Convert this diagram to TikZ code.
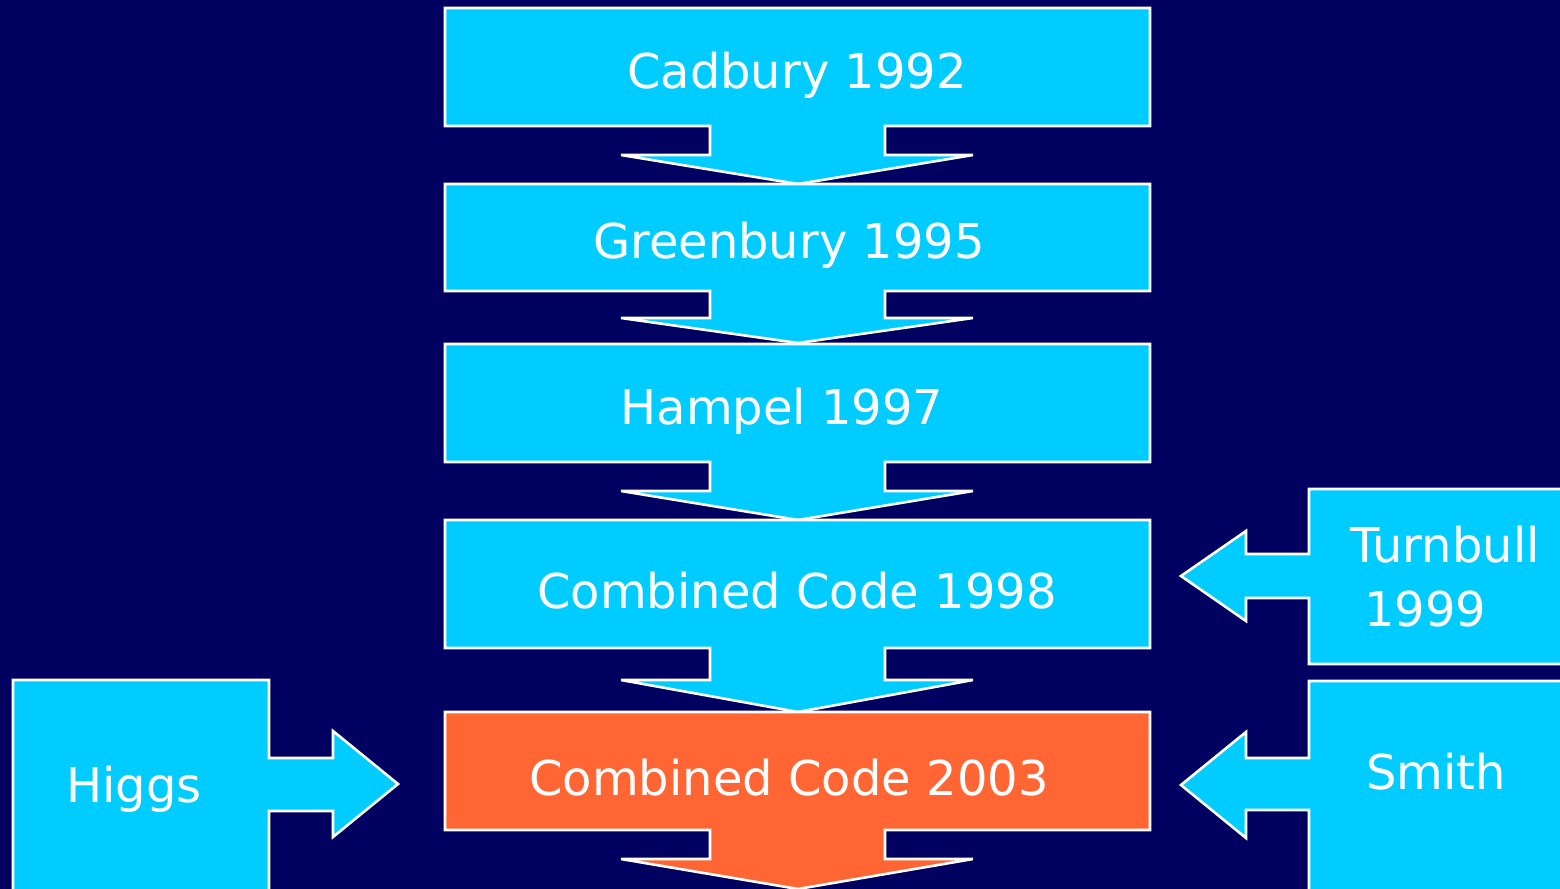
\documentclass[tikz,border=0pt]{standalone}
\usepackage{fontspec}
\setmainfont{DejaVu Sans}
\definecolor{navy}{HTML}{000060}
\definecolor{sky}{HTML}{00CCFF}
\definecolor{flame}{HTML}{FF6633}
\begin{document}
\begin{tikzpicture}[x=0.5pt,y=-0.5pt]
  \tikzset{callout/.style={draw=white,line width=1.3pt,line join=miter},
    txt/.style={text=white,inner sep=0pt,font=\fontsize{24}{32}\selectfont}}
  \fill[navy] (0,0) rectangle (1560,889);
  \useasboundingbox (0,0) rectangle (1560,889);
  \clip (0,0) rectangle (1560,889);

  % main column of down callouts
  \foreach \ya/\yb/\yc/\yd/\col in {8/126/155/184/sky,184/291/318/343/sky,344/462/491/520/sky,520/648/680/712/sky,712/830/859/889/flame}
    \draw[callout,fill=\col] (445,\ya)--(1150,\ya)--(1150,\yb)--(885,\yb)--(885,\yc)--(973,\yc)--(798,\yd)--(621,\yc)--(710,\yc)--(710,\yb)--(445,\yb)--cycle;

  % side callouts
  \draw[callout,fill=sky] (1570,489)--(1309,489)--(1309,554)--(1246,554)--(1246,531)--(1181,576)--(1246,621)--(1246,598)--(1309,598)--(1309,664)--(1570,664)--cycle;
  \draw[callout,fill=sky] (1570,681)--(1309,681)--(1309,758)--(1246,758)--(1246,732)--(1181,785)--(1246,838)--(1246,810)--(1309,810)--(1309,895)--(1570,895)--cycle;
  \draw[callout,fill=sky] (13,680)--(269,680)--(269,758)--(333,758)--(333,731)--(398,784)--(333,837)--(333,811)--(269,811)--(269,895)--(13,895)--cycle;

  \node[txt] (cadbury) at (797,75) {Cadbury 1992};
  \node[txt] (greenbury) at (789,245) {Greenbury 1995};
  \node[txt] (hampel) at (782,411) {Hampel 1997};
  \node[txt] (cc98) at (797,591) {Combined Code 1998};
  \node[txt] (cc03) at (789,778) {Combined Code 2003};
  \node[txt,align=left,anchor=west] (turnbull) at (1350,577) {Turnbull\\\hspace*{7pt}1999};
  \node[txt] (smith) at (1436,772) {Smith};
  \node[txt] (higgs) at (134,789) {Higgs};
\end{tikzpicture}
\end{document}
